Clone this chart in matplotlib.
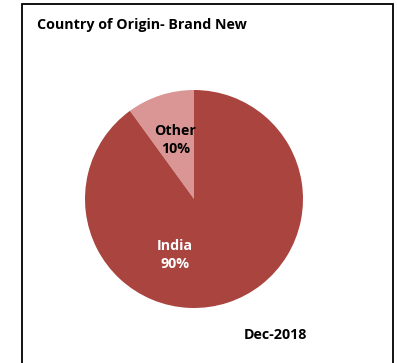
import matplotlib.pyplot as plt
from matplotlib.patches import Rectangle

labels = ['Other', 'India']
shares = [10, 90]
colors = ['#D99694', '#A9443F']
label_colors = ['black', 'white']
title = 'Country of Origin- Brand New'
date_note = 'Dec-2018'

plt.rcParams['font.family'] = ['Open Sans', 'DejaVu Sans']

W, H = 397, 363
fig = plt.figure(figsize=(W / 100, H / 100), dpi=100)

# outer frame (bottom edge runs off the image)
fig.patches.append(Rectangle((22 / W, -0.05), (393 - 22) / W, 1.05 - 4 / H,
                             transform=fig.transFigure, fill=False,
                             edgecolor='black', linewidth=1.3))

ax = fig.add_axes([85 / W, (H - 308) / H, 218 / W, 218 / H])
ax.pie(shares, colors=colors, startangle=90, counterclock=True,
       wedgeprops=dict(linewidth=0))
ax.set_aspect('equal')
ax.set_xlim(-1, 1)
ax.set_ylim(-1, 1)

# label positions inside the wedges (axes fractions)
label_pos = [(0.415, 0.77), (0.413, 0.243)]
for lab, val, c, (x, y) in zip(labels, shares, label_colors, label_pos):
    ax.text(x, y, f'{lab}\n{val}%', transform=ax.transAxes, ha='center',
            va='center', color=c, fontsize=10.3, fontweight='bold',
            linespacing=1.3)

fig.text(37 / W, 1 - 25 / H, title, ha='left', va='center',
         fontsize=10.3, fontweight='bold')
fig.text(275 / W, 1 - 335 / H, date_note, ha='center', va='center',
         fontsize=10.3, fontweight='bold')

fig.savefig('out.png', dpi=100)
